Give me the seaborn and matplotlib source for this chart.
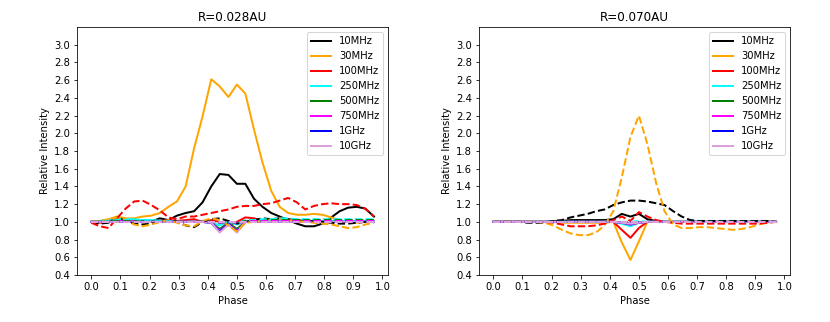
import matplotlib
matplotlib.use('Agg')
import matplotlib.pyplot as plt
import pandas as pd
import seaborn as sns

# Phase grid (34 points from 0 to 33/34)
phase = [0.000, 0.029, 0.059, 0.088, 0.118, 0.147, 0.176, 0.206, 0.235, 0.265,
         0.294, 0.324, 0.353, 0.382, 0.412, 0.441, 0.471, 0.500, 0.529, 0.559,
         0.588, 0.618, 0.647, 0.676, 0.706, 0.735, 0.765, 0.794, 0.824, 0.853,
         0.882, 0.912, 0.941, 0.971]

freqs = ['10MHz', '30MHz', '100MHz', '250MHz', '500MHz', '750MHz', '1GHz', '10GHz']
colors = ['black', 'orange', 'red', 'cyan', 'green', 'magenta', 'blue', 'plum']
titles = ['R=0.028AU', 'R=0.070AU']

# ---- R=0.028AU, solid lines
a_10m = [1.00, 1.00, 1.01, 1.05, 1.01, 1.00, 1.00, 1.00, 1.04, 1.02, 1.07, 1.10, 1.12, 1.22, 1.40, 1.54, 1.53, 1.43,
         1.43, 1.26, 1.17, 1.10, 1.06, 1.02, 0.98, 0.95, 0.95, 0.98, 1.05, 1.12, 1.16, 1.17, 1.15, 1.06]
a_30m = [1.00, 1.01, 1.03, 1.06, 1.04, 1.04, 1.06, 1.07, 1.10, 1.17, 1.23, 1.40, 1.83, 2.19, 2.61, 2.53, 2.41, 2.55,
         2.45, 2.04, 1.67, 1.35, 1.17, 1.10, 1.08, 1.08, 1.09, 1.08, 1.05, 1.02, 1.00, 0.99, 1.00, 1.00]
a_100m = [1.00, 0.99, 1.00, 1.02, 1.01, 1.00, 1.00, 1.00, 1.01, 1.02, 1.01, 1.02, 1.03, 1.00, 1.02, 1.00, 0.96, 1.00,
          1.05, 1.04, 1.01, 1.01, 1.00, 1.01, 1.01, 1.01, 1.00, 1.01, 1.01, 1.01, 1.00, 1.00, 1.00, 1.00]
a_250m = [1.00, 1.01, 1.02, 1.03, 1.03, 1.03, 1.02, 1.02, 1.01, 1.01, 1.00, 1.00, 1.00, 1.00, 0.99, 0.96, 1.00, 0.97,
          1.01, 1.01, 1.01, 1.01, 1.01, 1.01, 1.01, 1.01, 1.01, 1.01, 1.01, 1.01, 1.01, 1.01, 1.01, 1.01]
a_500m = [1.00, 1.00, 1.01, 1.01, 1.01, 1.01, 1.01, 1.01, 1.00, 1.00, 1.00, 1.00, 1.00, 1.00, 0.99, 0.92, 0.99, 0.92,
          1.00, 1.00, 1.00, 1.00, 1.00, 1.00, 1.00, 1.00, 1.00, 1.00, 1.00, 1.00, 1.00, 1.00, 1.00, 1.00]
a_750m = [1.00, 1.00, 1.00, 1.01, 1.01, 1.01, 1.00, 1.00, 1.00, 1.00, 1.00, 1.00, 1.00, 1.00, 0.99, 0.90, 0.98, 0.90,
          1.00, 1.00, 1.00, 1.00, 1.00, 1.00, 1.00, 1.00, 1.00, 1.00, 1.00, 1.00, 1.00, 1.00, 1.00, 1.00]
a_1g = [1.00, 1.00, 1.00, 1.00, 1.00, 1.00, 1.00, 1.00, 1.00, 1.00, 1.00, 1.00, 1.00, 1.00, 0.99, 0.89, 0.98, 0.89,
        1.00, 1.00, 1.00, 1.00, 1.00, 1.00, 1.00, 1.00, 1.00, 1.00, 1.00, 1.00, 1.00, 1.00, 1.00, 1.00]
a_10g = [1.00, 1.00, 1.00, 1.00, 1.00, 1.00, 1.00, 1.00, 1.00, 1.00, 1.00, 1.00, 1.00, 1.00, 0.99, 0.88, 0.97, 0.88,
         1.00, 1.00, 1.00, 1.00, 1.00, 1.00, 1.00, 1.00, 1.00, 1.00, 1.00, 1.00, 1.00, 1.00, 1.00, 1.00]

# ---- R=0.028AU, dashed lines
ad_10m = [1.00, 0.98, 0.99, 1.05, 1.02, 0.98, 0.97, 0.98, 1.00, 1.02, 1.00, 0.96, 0.94, 1.00, 1.03, 1.04, 1.01, 0.98,
          1.00, 1.02, 1.04, 1.03, 1.04, 1.03, 1.02, 1.01, 1.01, 1.00, 0.99, 0.98, 0.98, 0.99, 1.00, 1.01]
ad_30m = [1.00, 1.01, 1.02, 1.05, 1.03, 0.97, 0.95, 0.97, 1.00, 1.02, 0.99, 0.96, 0.95, 1.01, 1.04, 1.02, 0.96, 0.89,
          0.99, 1.00, 1.01, 1.03, 1.04, 1.02, 1.01, 1.00, 0.99, 0.98, 0.97, 0.95, 0.93, 0.94, 0.97, 0.99]
ad_100m = [0.99, 0.95, 0.93, 1.04, 1.15, 1.23, 1.24, 1.19, 1.13, 1.05, 1.03, 1.06, 1.06, 1.08, 1.10, 1.12, 1.14, 1.17,
           1.18, 1.18, 1.20, 1.21, 1.24, 1.27, 1.22, 1.14, 1.18, 1.20, 1.21, 1.20, 1.20, 1.19, 1.15, 1.06]
ad_250m = [1.00, 1.00, 1.01, 1.02, 1.02, 1.02, 1.02, 1.02, 1.01, 1.01, 1.00, 1.00, 1.00, 1.00, 1.00, 0.98, 1.00, 0.98,
           1.02, 1.02, 1.03, 1.03, 1.04, 1.04, 1.03, 1.03, 1.03, 1.03, 1.03, 1.03, 1.03, 1.03, 1.03, 1.03]
ad_500m = [1.00, 1.00, 1.00, 1.01, 1.01, 1.01, 1.00, 1.00, 1.00, 1.00, 1.00, 1.00, 1.00, 1.00, 1.00, 0.99, 1.00, 0.99,
           1.01, 1.01, 1.01, 1.02, 1.02, 1.02, 1.02, 1.02, 1.02, 1.02, 1.02, 1.02, 1.02, 1.02, 1.02, 1.02]
ad_750m = [1.00, 1.00, 1.00, 1.00, 1.00, 1.00, 1.00, 1.00, 1.00, 1.00, 1.00, 1.00, 1.00, 1.00, 1.00, 0.99, 1.00, 0.99,
           1.00, 1.01, 1.01, 1.01, 1.01, 1.01, 1.01, 1.01, 1.01, 1.01, 1.01, 1.01, 1.01, 1.01, 1.01, 1.01]
ad_1g = [1.00, 1.00, 1.00, 1.00, 1.00, 1.00, 1.00, 1.00, 1.00, 1.00, 1.00, 1.00, 1.00, 1.00, 1.00, 1.00, 1.00, 1.00,
         1.00, 1.00, 1.00, 1.00, 1.00, 1.00, 1.00, 1.00, 1.00, 1.00, 1.00, 1.00, 1.00, 1.00, 1.00, 1.00]
ad_10g = [1.00, 1.00, 1.00, 1.00, 1.00, 1.00, 1.00, 1.00, 1.00, 1.00, 1.00, 1.00, 1.00, 1.00, 1.00, 1.00, 1.00, 1.00,
          1.00, 1.00, 1.00, 1.00, 1.00, 1.00, 1.00, 1.00, 1.00, 1.00, 1.00, 1.00, 1.00, 1.00, 1.00, 1.00]

# ---- R=0.070AU, solid lines
b_10m = [1.00, 1.00, 1.00, 1.00, 1.00, 1.00, 1.00, 1.01, 1.01, 1.02, 1.02, 1.02, 1.02, 1.02, 1.03, 1.09, 1.06, 1.09,
         1.03, 1.01, 1.00, 1.00, 1.00, 1.00, 1.00, 1.00, 1.00, 1.00, 1.00, 1.00, 1.00, 1.00, 1.00, 1.00]
b_30m = [1.00, 1.00, 1.00, 1.00, 1.00, 1.00, 1.00, 1.00, 0.99, 0.99, 0.99, 0.99, 0.99, 0.99, 1.00, 0.77, 0.57, 0.78,
         1.00, 1.00, 1.00, 1.00, 1.00, 1.00, 1.00, 1.00, 1.00, 1.00, 1.00, 1.00, 1.00, 1.00, 1.00, 1.00]
b_100m = [1.00, 1.00, 1.00, 1.00, 1.00, 1.00, 1.00, 1.00, 1.00, 1.00, 1.00, 1.00, 1.00, 1.00, 1.00, 0.91, 0.82, 0.93,
          1.00, 1.00, 1.00, 1.00, 1.00, 1.00, 1.00, 1.00, 1.00, 1.00, 1.00, 1.00, 1.00, 1.00, 1.00, 1.00]
b_250m = [1.00, 1.00, 1.00, 1.00, 1.00, 1.00, 1.00, 1.00, 1.00, 1.00, 1.00, 1.00, 1.00, 1.00, 1.00, 0.98, 0.95, 0.99,
          1.00, 1.00, 1.00, 1.00, 1.00, 1.00, 1.00, 1.00, 1.00, 1.00, 1.00, 1.00, 1.00, 1.00, 1.00, 1.00]
b_500m = [1.00, 1.00, 1.00, 1.00, 1.00, 1.00, 1.00, 1.00, 1.00, 1.00, 1.00, 1.00, 1.00, 1.00, 1.00, 0.99, 0.97, 0.99,
          1.00, 1.00, 1.00, 1.00, 1.00, 1.00, 1.00, 1.00, 1.00, 1.00, 1.00, 1.00, 1.00, 1.00, 1.00, 1.00]
b_750m = [1.00, 1.00, 1.00, 1.00, 1.00, 1.00, 1.00, 1.00, 1.00, 1.00, 1.00, 1.00, 1.00, 1.00, 1.00, 0.99, 0.97, 0.99,
          1.00, 1.00, 1.00, 1.00, 1.00, 1.00, 1.00, 1.00, 1.00, 1.00, 1.00, 1.00, 1.00, 1.00, 1.00, 1.00]
b_1g = [1.00, 1.00, 1.00, 1.00, 1.00, 1.00, 1.00, 1.00, 1.00, 1.00, 1.00, 1.00, 1.00, 1.00, 1.00, 0.99, 0.98, 0.99,
        1.00, 1.00, 1.00, 1.00, 1.00, 1.00, 1.00, 1.00, 1.00, 1.00, 1.00, 1.00, 1.00, 1.00, 1.00, 1.00]
b_10g = [1.00, 1.00, 1.00, 1.00, 1.00, 1.00, 1.00, 1.00, 1.00, 1.00, 1.00, 1.00, 1.00, 1.00, 1.00, 0.99, 0.98, 0.99,
         1.00, 1.00, 1.00, 1.00, 1.00, 1.00, 1.00, 1.00, 1.00, 1.00, 1.00, 1.00, 1.00, 1.00, 1.00, 1.00]

# ---- R=0.070AU, dashed lines
bd_10m = [1.00, 1.00, 1.00, 1.00, 0.99, 0.99, 0.99, 1.01, 1.02, 1.05, 1.07, 1.09, 1.12, 1.14, 1.19, 1.22, 1.24, 1.24,
          1.23, 1.21, 1.19, 1.12, 1.06, 1.02, 1.01, 1.01, 1.01, 1.01, 1.01, 1.01, 1.01, 1.01, 1.01, 1.00]
bd_30m = [1.00, 1.00, 1.00, 1.00, 1.00, 1.00, 0.99, 0.96, 0.91, 0.87, 0.85, 0.85, 0.88, 0.96, 1.12, 1.50, 1.96, 2.20,
          1.88, 1.44, 1.12, 0.97, 0.93, 0.93, 0.94, 0.94, 0.93, 0.92, 0.91, 0.92, 0.94, 0.97, 0.99, 1.00]
bd_100m = [1.00, 1.00, 1.00, 1.00, 1.00, 1.00, 1.00, 0.99, 0.97, 0.95, 0.95, 0.95, 0.96, 0.98, 1.02, 1.06, 1.01, 1.11,
           1.06, 1.02, 1.00, 0.99, 0.98, 0.98, 0.98, 0.98, 0.98, 0.98, 0.98, 0.98, 0.98, 0.98, 0.99, 1.00]
bd_250m = [1.00, 1.00, 1.00, 1.00, 1.00, 1.00, 1.00, 1.00, 1.00, 1.00, 1.00, 1.00, 1.00, 1.00, 1.00, 1.00, 1.00, 1.01,
           1.00, 1.00, 1.00, 1.00, 1.00, 1.00, 1.00, 1.00, 1.00, 1.00, 1.00, 1.00, 1.00, 1.00, 1.00, 1.00]
bd_500m = [1.00, 1.00, 1.00, 1.00, 1.00, 1.00, 1.00, 1.00, 1.00, 1.00, 1.00, 1.00, 1.00, 1.00, 1.00, 1.00, 1.00, 1.00,
           1.00, 1.00, 1.00, 1.00, 1.00, 1.00, 1.00, 1.00, 1.00, 1.00, 1.00, 1.00, 1.00, 1.00, 1.00, 1.00]
bd_750m = [1.00, 1.00, 1.00, 1.00, 1.00, 1.00, 1.00, 1.00, 1.00, 1.00, 1.00, 1.00, 1.00, 1.00, 1.00, 1.00, 1.00, 1.00,
           1.00, 1.00, 1.00, 1.00, 1.00, 1.00, 1.00, 1.00, 1.00, 1.00, 1.00, 1.00, 1.00, 1.00, 1.00, 1.00]
bd_1g = [1.00, 1.00, 1.00, 1.00, 1.00, 1.00, 1.00, 1.00, 1.00, 1.00, 1.00, 1.00, 1.00, 1.00, 1.00, 1.00, 1.00, 1.00,
         1.00, 1.00, 1.00, 1.00, 1.00, 1.00, 1.00, 1.00, 1.00, 1.00, 1.00, 1.00, 1.00, 1.00, 1.00, 1.00]
bd_10g = [1.00, 1.00, 1.00, 1.00, 1.00, 1.00, 1.00, 1.00, 1.00, 1.00, 1.00, 1.00, 1.00, 1.00, 1.00, 1.00, 1.00, 1.00,
          1.00, 1.00, 1.00, 1.00, 1.00, 1.00, 1.00, 1.00, 1.00, 1.00, 1.00, 1.00, 1.00, 1.00, 1.00, 1.00]

panels = [
    ([a_10m, a_30m, a_100m, a_250m, a_500m, a_750m, a_1g, a_10g],
     [ad_10m, ad_30m, ad_100m, ad_250m, ad_500m, ad_750m, ad_1g, ad_10g]),
    ([b_10m, b_30m, b_100m, b_250m, b_500m, b_750m, b_1g, b_10g],
     [bd_10m, bd_30m, bd_100m, bd_250m, bd_500m, bd_750m, bd_1g, bd_10g]),
]


def to_long(series_list):
    rows = []
    for name, vals in zip(freqs, series_list):
        for p, v in zip(phase, vals):
            rows.append({'Phase': p, 'Relative Intensity': v, 'freq': name})
    return pd.DataFrame(rows)


palette = dict(zip(freqs, colors))

fig, axes = plt.subplots(1, 2, figsize=(830 / 72, 322 / 72), dpi=72)
fig.subplots_adjust(left=0.093, right=0.952, top=0.916, bottom=0.146, wspace=0.293)

for ax, title, (solid, dashed) in zip(axes, titles, panels):
    sns.lineplot(data=to_long(solid), x='Phase', y='Relative Intensity', hue='freq',
                 hue_order=freqs, palette=palette, estimator=None, sort=False,
                 linewidth=2, legend=False, ax=ax)
    sns.lineplot(data=to_long(dashed), x='Phase', y='Relative Intensity', hue='freq',
                 hue_order=freqs, palette=palette, estimator=None, sort=False,
                 linewidth=2, linestyle='--', legend=False, ax=ax)
    ax.set_title(title, fontsize=12)
    ax.set_xlabel('Phase')
    ax.set_ylabel('Relative Intensity')
    ax.set_xticks([i / 10 for i in range(11)])
    ax.set_yticks([0.4 + 0.2 * i for i in range(14)])
    ax.set_ylim(0.4, 3.2)
    ax.legend(handles=ax.lines[:8], labels=freqs, loc='upper right')

fig.savefig('out.png', dpi=72)
